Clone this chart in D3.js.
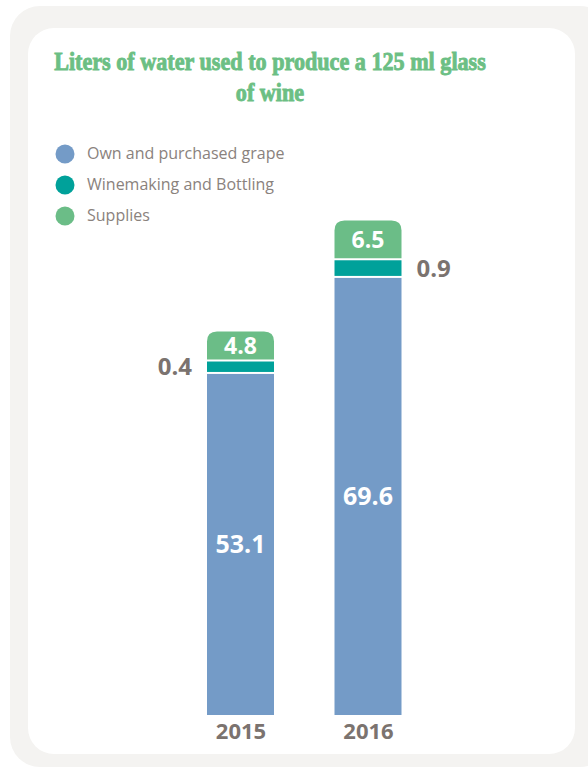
<!DOCTYPE html>
<html>
<head>
<meta charset="utf-8">
<script src="https://cdn.jsdelivr.net/npm/d3@7"></script>
<style>
  html, body { margin: 0; padding: 0; background: #ffffff; }
  svg { display: block; }
</style>
</head>
<body>
<svg id="chart" width="588" height="769"></svg>
<script>
// Water footprint per 125 ml glass of wine, by year and process stage
const years = ["2015", "2016"];
const grape = [53.1, 69.6];        // Own and purchased grape
const bottling = [0.4, 0.9];       // Winemaking and Bottling
const supplies = [4.8, 6.5];       // Supplies
const legendLabels = ["Own and purchased grape", "Winemaking and Bottling", "Supplies"];
const colors = ["#749bc7", "#00a19a", "#6bbd87"];

const svg = d3.select("#chart");
const textGray = "#7b736f";

// Panels
svg.append("rect").attr("x", 10).attr("y", 6).attr("width", 600).attr("height", 761)
  .attr("rx", 30).attr("fill", "#f4f3f1");
svg.append("rect").attr("x", 28).attr("y", 28).attr("width", 547).attr("height", 726)
  .attr("rx", 26).attr("fill", "#ffffff");

// Title (heavy slab look: bold serif with a matching outline)
const titleG = svg.append("g");
const titleFont = "'Liberation Serif', 'DejaVu Serif', serif";
const titleColor = "#6cbf84";
const t1 = titleG.append("text").attr("x", 0).attr("y", 70)
  .attr("text-anchor", "middle").attr("font-family", titleFont)
  .attr("font-weight", 700).attr("font-size", 25).attr("fill", titleColor)
  .attr("stroke", titleColor).attr("stroke-width", 0.9)
  .text("Liters of water used to produce a 125 ml glass");
titleG.append("text").attr("x", 0).attr("y", 101)
  .attr("text-anchor", "middle").attr("font-family", titleFont)
  .attr("font-weight", 700).attr("font-size", 25).attr("fill", titleColor)
  .attr("stroke", titleColor).attr("stroke-width", 0.9)
  .text("of wine");
const w1 = t1.node().getComputedTextLength();
titleG.attr("transform", `translate(270,0) scale(${432 / w1},1)`);

// Legend
const legend = svg.append("g");
const legendY = [154, 185, 216];
legendLabels.forEach((lab, i) => {
  legend.append("circle").attr("cx", 65).attr("cy", legendY[i]).attr("r", 9.5).attr("fill", colors[i]);
  legend.append("text").attr("x", 87).attr("y", legendY[i]).attr("dy", "0.33em")
    .attr("font-family", "'Open Sans', sans-serif").attr("font-size", 16)
    .attr("fill", "#8a827d").text(lab);
});

// Scales
const baseline = 715;
const x = d3.scalePoint().domain(years).range([240.5, 368]);
const barW = 67;
const y = d3.scaleLinear().domain([-5.5, 70]).range([baseline, baseline - 5.82 * 75.5]);
const thin = d3.scaleSqrt().domain([0, 1]).range([0, 16.5]);   // small stage, enlarged for legibility
const gap = 2;
const r = 10;

function topRounded(x0, y0, w, h, rad) {
  return `M${x0},${y0 + h} V${y0 + rad} Q${x0},${y0} ${x0 + rad},${y0} H${x0 + w - rad} Q${x0 + w},${y0} ${x0 + w},${y0 + rad} V${y0 + h} Z`;
}

const valueFont = "'Open Sans', sans-serif";

years.forEach((yr, i) => {
  const cx = x(yr);
  const x0 = cx - barW / 2;
  // grape segment
  const gTop = y(grape[i]);
  svg.append("rect").attr("x", x0).attr("y", gTop).attr("width", barW)
    .attr("height", baseline - gTop).attr("fill", colors[0]);
  svg.append("text").attr("x", cx).attr("y", (gTop + baseline) / 2).attr("dy", "0.36em")
    .attr("text-anchor", "middle").attr("font-family", valueFont).attr("font-weight", 700)
    .attr("font-size", 25).attr("fill", "#ffffff").text(grape[i].toFixed(1));
  // bottling segment
  const bH = thin(bottling[i]);
  const bBottom = gTop - gap;
  const bTop = bBottom - bH;
  svg.append("rect").attr("x", x0).attr("y", bTop).attr("width", barW)
    .attr("height", bH).attr("fill", colors[1]);
  const lbl = svg.append("text").attr("y", (bTop + bBottom) / 2).attr("dy", "0.36em")
    .attr("font-family", valueFont).attr("font-weight", 700)
    .attr("font-size", 24).attr("fill", textGray).text(bottling[i].toFixed(1));
  if (i === 0) lbl.attr("x", x0 - 15).attr("text-anchor", "end");
  else lbl.attr("x", x0 + barW + 15).attr("text-anchor", "start");
  // supplies segment
  const sBottom = bTop - gap;
  const sH = y(0) - y(supplies[i]);
  const sTop = sBottom - sH;
  svg.append("path").attr("d", topRounded(x0, sTop, barW, sH, r)).attr("fill", colors[2]);
  svg.append("text").attr("x", cx).attr("y", (sTop + sBottom) / 2).attr("dy", "0.36em")
    .attr("text-anchor", "middle").attr("font-family", valueFont).attr("font-weight", 700)
    .attr("font-size", 23).attr("fill", "#ffffff").text(supplies[i].toFixed(1));
});

// Category axis
const xAxis = svg.append("g").attr("transform", `translate(0,${baseline})`)
  .call(d3.axisBottom(x).tickSize(0).tickPadding(8));
xAxis.select(".domain").remove();
xAxis.selectAll("text").attr("font-family", valueFont).attr("font-weight", 700)
  .attr("font-size", 22).attr("fill", textGray).attr("dy", "0.71em");
</script>
</body>
</html>
